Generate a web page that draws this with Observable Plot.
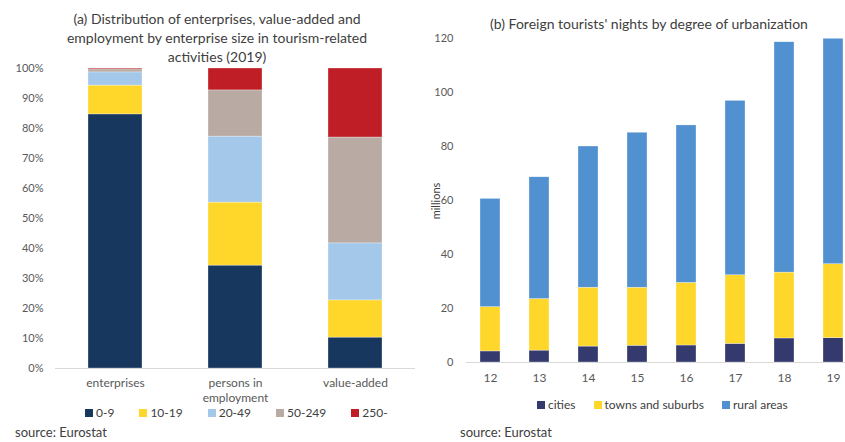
<!DOCTYPE html>
<html>
<head>
<meta charset="utf-8">
<script src="https://cdn.jsdelivr.net/npm/d3@7"></script>
<script src="https://cdn.jsdelivr.net/npm/@observablehq/plot@0.6"></script>
<style>
  html, body { margin: 0; padding: 0; background: #fff; overflow: hidden; }
  #root { position: relative; width: 845px; height: 442px; overflow: hidden; font-family: Lato, "Open Sans", sans-serif; color: #595959; }
  .title { color: #404040; font-size: 14px; line-height: 19px; text-align: center; white-space: nowrap; }
  .legend { display: flex; align-items: center; font-size: 12px; color: #404040; white-space: nowrap; }
  .legend .item { display: flex; align-items: center; }
  .legend .sw { width: 8px; height: 8px; margin-right: 3px; }
  .source { font-size: 13px; line-height: 15px; color: #404040; }
</style>
</head>
<body>
<div id="root"></div>
<script>
// ---- Panel (a) data ----
const categories = ["enterprises", "persons in employment", "value-added"];
const sizeClasses = ["0-9", "10-19", "20-49", "50-249", "250-"];
const enterprisesShare = [84.7, 9.6, 4.4, 1.0, 0.3];
const employmentShare = [34.3, 21.0, 22.0, 15.4, 7.3];
const valueAddedShare = [10.3, 12.4, 19.0, 35.3, 23.0];
const sizeColors = ["#17375e", "#ffd62a", "#a3c8ea", "#b9aba3", "#c01e26"];

// ---- Panel (b) data ----
const years = ["12", "13", "14", "15", "16", "17", "18", "19"];
const cities = [4.1, 4.4, 5.9, 6.2, 6.3, 6.9, 8.9, 9.0];
const townsSuburbs = [16.4, 19.1, 21.8, 21.5, 23.2, 25.4, 24.4, 27.4];
const ruralAreas = [40.1, 45.1, 52.3, 57.4, 58.3, 64.6, 85.3, 83.5];
const urbanSeries = ["cities", "towns and suburbs", "rural areas"];
const urbanColors = ["#343a6e", "#ffd62a", "#5191d0"];

const root = document.getElementById("root");
function place(el, left, top) {
  el.style.position = "absolute";
  el.style.left = left + "px";
  el.style.top = top + "px";
  root.appendChild(el);
  return el;
}

// ---- Panel (a) ----
const shareBySeries = [enterprisesShare, employmentShare, valueAddedShare];
const tableA = [];
categories.forEach((c, i) => sizeClasses.forEach((s, j) => tableA.push({category: c, size: s, value: shareBySeries[i][j] / 100})));

const plotA = Plot.plot({
  width: 420, height: 345,
  marginLeft: 55, marginRight: 5, marginTop: 8, marginBottom: 37,
  style: {fontFamily: "Lato, 'Open Sans', sans-serif", fontSize: "11px", color: "#595959", background: "transparent"},
  x: {domain: categories, paddingInner: 0.552, paddingOuter: 0.27, label: null},
  y: {domain: [0, 1], label: null},
  color: {domain: sizeClasses, range: sizeColors},
  marks: [
    Plot.barY(tableA, {x: "category", y: "value", fill: "size", stroke: "#ffffff", strokeWidth: 0.5, strokeOpacity: 0.6}),
    Plot.ruleY([0], {stroke: "#d9d9d9", strokeWidth: 1}),
    Plot.axisY({ticks: d3.range(0, 1.01, 0.1), tickFormat: d3.format(".0%"), tickSize: 0, tickPadding: 12, label: null}),
    Plot.axisX({tickSize: 0, tickPadding: 9, fontSize: 12, lineHeight: 1.17, label: null,
      tickFormat: d => d === "persons in employment" ? "persons in\nemployment" : d})
  ]
});
place(plotA, 0, 60);

const titleA = document.createElement("div");
titleA.className = "title";
titleA.style.width = "400px";
titleA.innerHTML = "(a) Distribution of enterprises, value-added and<br>employment by enterprise size in tourism-related<br>activities (2019)";
place(titleA, 17, 9);

const legA = document.createElement("div");
legA.className = "legend";
legA.style.gap = "25px";
sizeClasses.forEach((s, i) => {
  const it = document.createElement("div"); it.className = "item";
  const sw = document.createElement("span"); sw.className = "sw"; sw.style.background = sizeColors[i];
  const tx = document.createElement("span"); tx.textContent = s;
  it.appendChild(sw); it.appendChild(tx); legA.appendChild(it);
});
place(legA, 85, 405);

const srcA = document.createElement("div");
srcA.className = "source"; srcA.textContent = "source: Eurostat";
place(srcA, 15, 425);

// ---- Panel (b) ----
const seriesB = [cities, townsSuburbs, ruralAreas];
const tableB = [];
years.forEach((yr, i) => urbanSeries.forEach((s, j) => tableB.push({year: yr, series: s, value: seriesB[j][i]})));

const plotB = Plot.plot({
  width: 440, height: 355,
  marginLeft: 46, marginRight: 4, marginTop: 8, marginBottom: 23,
  style: {fontFamily: "Lato, 'Open Sans', sans-serif", fontSize: "11px", color: "#595959", background: "transparent", overflow: "visible"},
  x: {domain: years, paddingInner: 0.6, paddingOuter: 0.26, label: null},
  y: {domain: [0, 120], label: null},
  color: {domain: urbanSeries, range: urbanColors},
  marks: [
    Plot.barY(tableB, {x: "year", y: "value", fill: "series", stroke: "#ffffff", strokeWidth: 0.5, strokeOpacity: 0.6, clip: true}),
    Plot.ruleY([0], {stroke: "#d9d9d9", strokeWidth: 1}),
    Plot.axisY({ticks: d3.range(0, 121, 20), tickSize: 0, tickPadding: 13, label: null}),
    Plot.axisX({tickSize: 0, tickPadding: 11, fontSize: 12, label: null})
  ]
});
place(plotB, 420, 30);

const ylabB = document.createElement("div");
ylabB.textContent = "millions";
ylabB.style.fontSize = "11px";
ylabB.style.color = "#404040";
ylabB.style.transform = "rotate(-90deg)";
ylabB.style.transformOrigin = "center center";
ylabB.style.width = "60px";
ylabB.style.textAlign = "center";
ylabB.style.lineHeight = "12px";
place(ylabB, 436 - 30, 201 - 6);

const titleB = document.createElement("div");
titleB.className = "title";
titleB.style.width = "420px";
titleB.textContent = "(b) Foreign tourists' nights by degree of urbanization";
place(titleB, 649 - 210, 14);

const legB = document.createElement("div");
legB.className = "legend";
legB.style.gap = "18px";
urbanSeries.forEach((s, i) => {
  const it = document.createElement("div"); it.className = "item";
  const sw = document.createElement("span"); sw.className = "sw"; sw.style.background = urbanColors[i];
  const tx = document.createElement("span"); tx.textContent = s;
  it.appendChild(sw); it.appendChild(tx); legB.appendChild(it);
});
place(legB, 537, 397);

const srcB = document.createElement("div");
srcB.className = "source"; srcB.textContent = "source: Eurostat";
place(srcB, 460, 425);
</script>
</body>
</html>
